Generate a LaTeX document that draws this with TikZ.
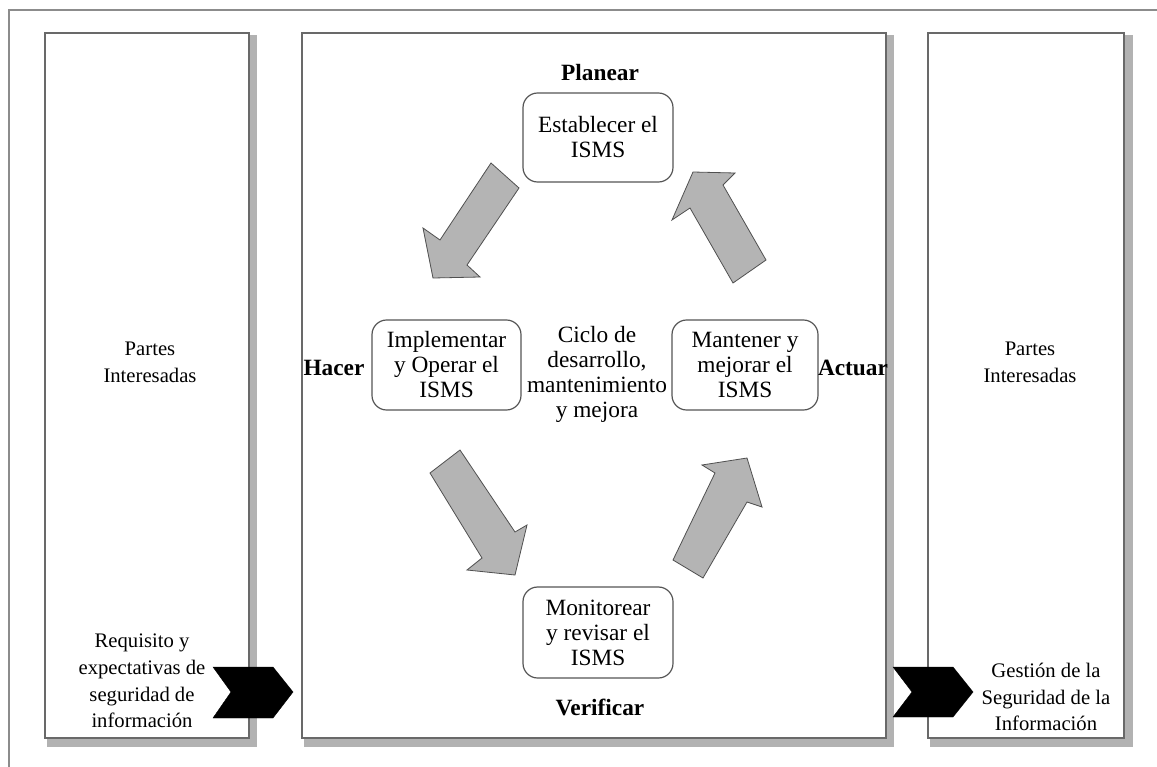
\documentclass[tikz,border=0pt]{standalone}
\usepackage{fontspec}
\setmainfont{Liberation Serif}
\definecolor{frameline}{RGB}{140,140,140}
\definecolor{panelline}{RGB}{105,105,105}
\definecolor{shadowgray}{RGB}{178,178,178}
\definecolor{stepline}{RGB}{85,85,85}
\definecolor{arrowfill}{RGB}{180,180,180}
\definecolor{arrowline}{RGB}{80,80,80}
\begin{document}
\begin{tikzpicture}[x=0.75pt,y=-0.75pt,
  panel/.style={draw=panelline, line width=1.2pt, fill=white},
  panelshadow/.style={fill=shadowgray},
  stepbox/.style={draw=stepline, line width=0.9pt, rounded corners=11pt, fill=white,
    align=center, inner sep=0pt, font=\fontsize{17.5}{18.75}\selectfont},
  phase/.style={font=\fontsize{17.5}{18.75}\selectfont\bfseries, inner sep=0pt},
  sidetext/.style={align=center, inner sep=0pt, font=\fontsize{15.5}{20}\selectfont},
  cyclearrow/.style={fill=arrowfill, draw=arrowline, line width=0.6pt, line join=miter},
  chevron/.style={fill=black, draw=black, line width=0.3pt}
]
\useasboundingbox (0,0) rectangle (1157,767);
\clip (0,0) rectangle (1157,767);

% outer frame (runs off the right and bottom edges)
\draw[frameline, line width=1.1pt] (9,800) -- (9,10) -- (1200,10);

% three panels with their drop shadows
\fill[panelshadow] (47,35) rectangle (257,747);
\draw[panel] (45,33) rectangle (249,738);
\fill[panelshadow] (304,35) rectangle (894,747);
\draw[panel] (302,33) rectangle (886,738);
\fill[panelshadow] (930,35) rectangle (1133,747);
\draw[panel] (928,33) rectangle (1124,738);

% side panel texts
\node[sidetext] (partesL) at (150,362) {Partes\\Interesadas};
\node[sidetext] (partesR) at (1030,362) {Partes\\Interesadas};
\node[sidetext] (requisito) at (142,681) {Requisito y\\expectativas de\\seguridad de\\información};
\node[sidetext] (gestion) at (1046,697) {Gestión de la\\Seguridad de la\\Información};

% PDCA steps
\node[stepbox, minimum width=112.5pt, minimum height=66.75pt] (plan) at (598,137.5) {Establecer el\\ISMS};
\node[stepbox, minimum width=111.75pt, minimum height=67.5pt] (do) at (446.5,365) {Implementar\\y Operar el\\ISMS};
\node[stepbox, minimum width=109.5pt, minimum height=67.5pt] (act) at (745,365) {Mantener y\\mejorar el\\ISMS};
\node[stepbox, minimum width=112.5pt, minimum height=68.25pt] (check) at (598,632.5) {Monitorear\\y revisar el\\ISMS};

\node[stepbox, draw=none, fill=none] (cycle) at (597,374) {Ciclo de\\desarrollo,\\mantenimiento\\y mejora};

\node[phase] (planear) at (600,73) {Planear};
\node[phase] (verificar) at (600,707) {Verificar};
\node[phase] (hacer) at (334,368) {Hacer};
\node[phase] (actuar) at (853,368) {Actuar};

% block arrows of the cycle
% plan -> do
\draw[cyclearrow] (491,163) -- (519,188) -- (467,265) -- (480,277) -- (433,278)
  -- (423,228) -- (440,240) -- cycle;
% do -> check
\draw[cyclearrow] (430,473) -- (460,450) -- (515,532) -- (527,525) -- (515,575)
  -- (467,570) -- (482,558) -- cycle;
% check -> act
\draw[cyclearrow] (673,560) -- (703,578) -- (747,502) -- (762,507) -- (747,458)
  -- (702,465) -- (715,473) -- cycle;
% act -> plan
\draw[cyclearrow] (766,260) -- (733,283) -- (690,208) -- (672,220) -- (693,172)
  -- (735,173) -- (723,185) -- cycle;

% input and output chevrons
\draw[chevron] (213,667) -- (273,667) -- (293,692) -- (273,718) -- (213,718)
  -- (231,692) -- cycle;
\draw[chevron] (893,667) -- (953,667) -- (973,692) -- (953,717) -- (893,717)
  -- (912,692) -- cycle;
\end{tikzpicture}
\end{document}
